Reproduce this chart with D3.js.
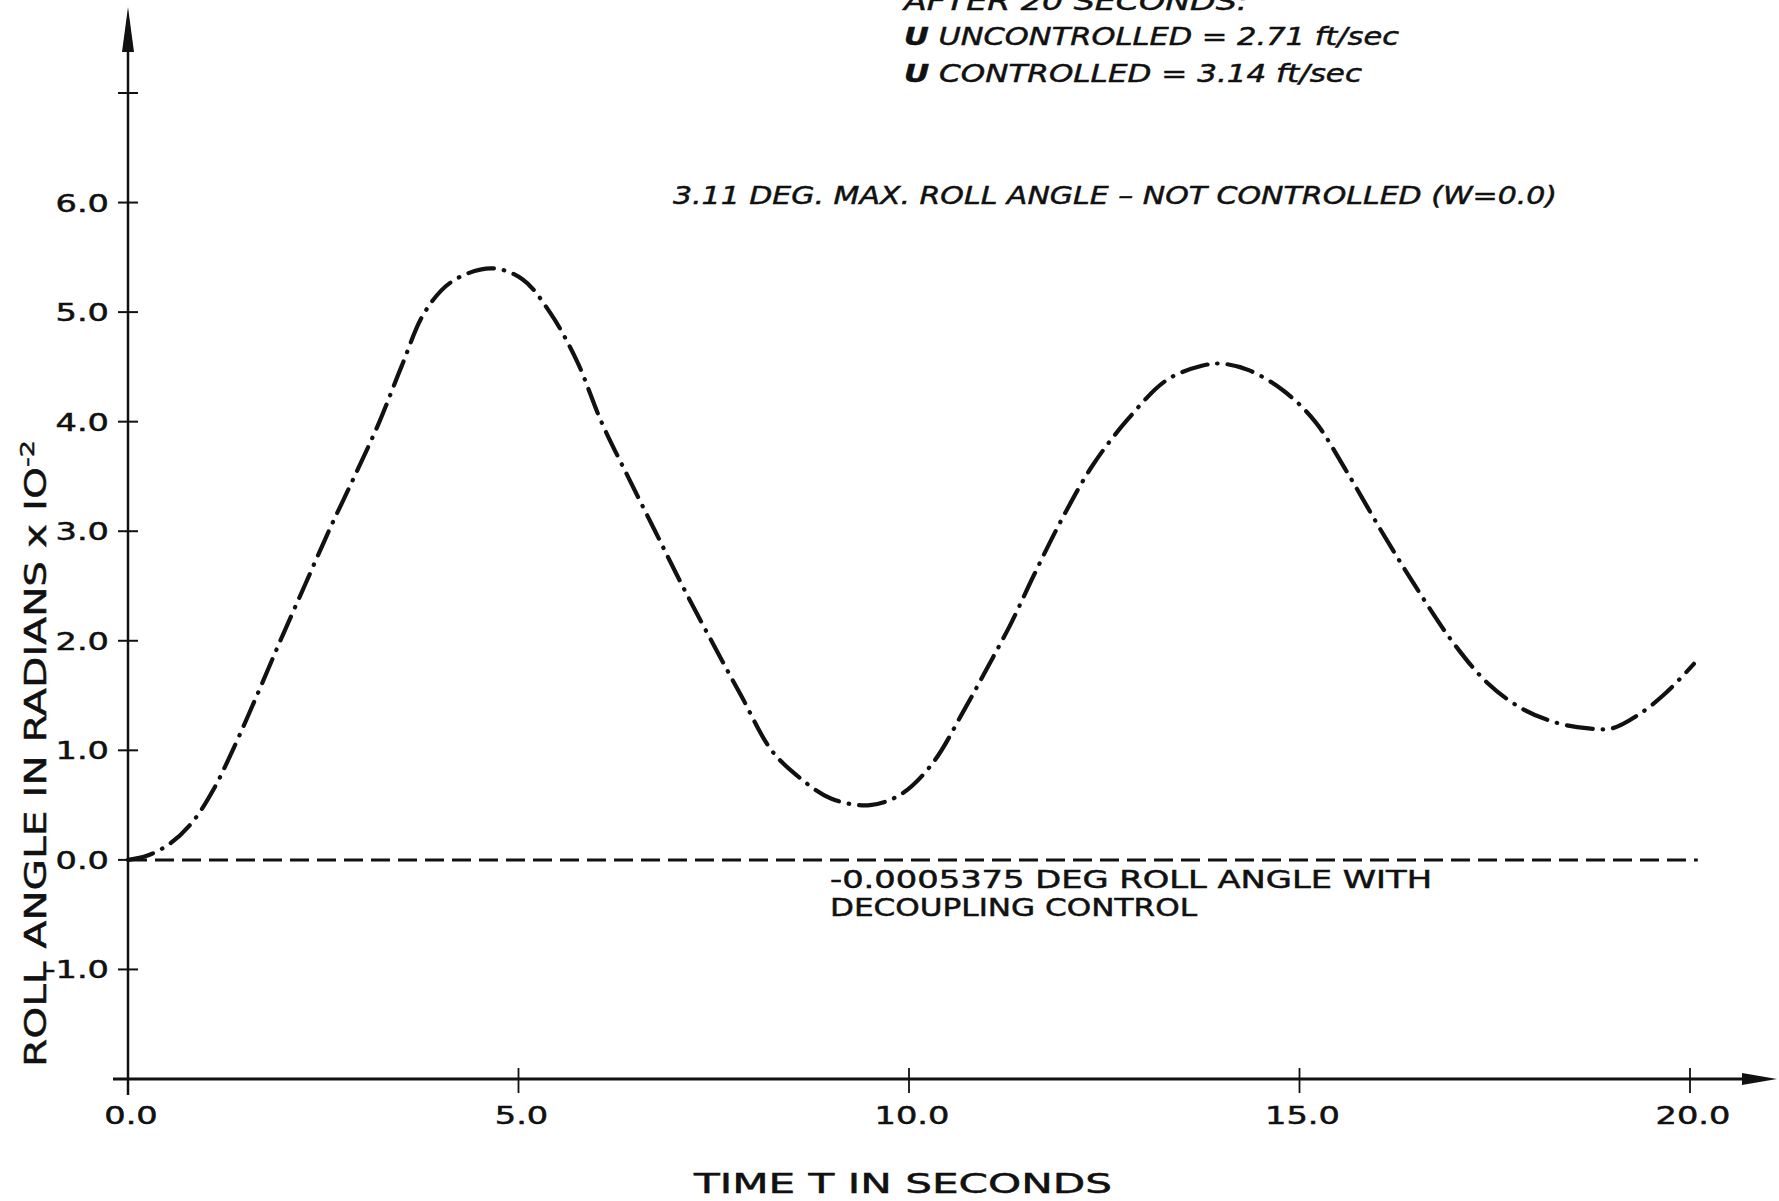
<!DOCTYPE html>
<html>
<head>
<meta charset="utf-8">
<script src="https://cdn.jsdelivr.net/npm/d3@7/dist/d3.min.js"></script>
<style>
  html, body { margin: 0; padding: 0; background: #fff; }
  svg text { font-family: "DejaVu Sans", sans-serif; fill: #111; stroke: #111; stroke-width: 0.5; }
</style>
</head>
<body>
<div id="chart"></div>
<script>
// roll angle (radians x 10^-2) vs time
const timeS = [0, 0.25, 0.54, 0.83, 1.1, 1.34, 1.65, 1.95, 2.26, 2.57, 2.9, 3.22, 3.5, 3.8, 4.15, 4.65,
  5.05, 5.4, 5.75, 6.06, 6.4, 6.75, 7.1, 7.47, 7.85, 8.24, 8.6, 9.0, 9.5, 9.9, 10.3, 10.7, 11.0,
  11.3, 11.6, 11.95, 12.35, 12.8, 13.3, 13.75, 14.0, 14.35, 14.8, 15.2, 15.6, 16.05, 16.5, 16.95,
  17.4, 17.85, 18.3, 18.7, 19.0, 19.35, 19.7, 20.05];
const rollUncontrolled = [0, 0.04, 0.15, 0.35, 0.65, 1.0, 1.5, 2.0, 2.5, 3.0, 3.5, 4.0, 4.5, 5.0, 5.28, 5.4,
  5.3, 5.0, 4.55, 4.0, 3.5, 3.0, 2.5, 2.0, 1.5, 1.0, 0.75, 0.56, 0.5, 0.6, 0.88, 1.36, 1.75,
  2.15, 2.6, 3.1, 3.6, 4.02, 4.38, 4.51, 4.53, 4.47, 4.28, 4.0, 3.55, 3.0, 2.48, 2.0,
  1.62, 1.38, 1.25, 1.2, 1.2, 1.33, 1.53, 1.79];
const timeControlled = [0, 20.1];
const rollControlled = [0, 0];

const xTicks = [0, 5, 10, 15, 20];
const xTickLabels = ["0.0", "5.0", "10.0", "15.0", "20.0"];
const yTicks = [-1, 0, 1, 2, 3, 4, 5, 6, 7];
const yTickLabels = ["-1.0", "0.0", "1.0", "2.0", "3.0", "4.0", "5.0", "6.0", ""];

const notesTop = ["AFTER  20  SECONDS:", "UNCONTROLLED = 2.71  ft/sec", "CONTROLLED = 3.14  ft/sec"];

const W = 1779, H = 1201;
const svg = d3.select("#chart").append("svg")
  .attr("width", W).attr("height", H);

const x = d3.scaleLinear().domain([0, 20]).range([128, 1690]);
const y = d3.scaleLinear().domain([-2, 7]).range([1079, 93]);

// stretch text to a given width, the lettering is wide
function fit(sel, w) {
  sel.attr("textLength", w).attr("lengthAdjust", "spacingAndGlyphs");
}

// axes
const axes = svg.append("g").attr("stroke", "#111").attr("fill", "none");
axes.append("line")
  .attr("x1", 113).attr("x2", 1748)
  .attr("y1", y(-2)).attr("y2", y(-2))
  .attr("stroke-width", 3);
axes.append("line")
  .attr("x1", x(0)).attr("x2", x(0))
  .attr("y1", 1095).attr("y2", 45)
  .attr("stroke-width", 2.5);

// arrowheads
svg.append("path")
  .attr("d", `M${x(0)},7 L${x(0) + 6},52 L${x(0) - 6},52 Z`)
  .attr("fill", "#111");
svg.append("path")
  .attr("d", `M1777,${y(-2)} L1742,${y(-2) - 6} L1742,${y(-2) + 6} Z`)
  .attr("fill", "#111");

// y ticks
axes.selectAll(".yt").data(yTicks).join("line")
  .attr("x1", x(0) - 10).attr("x2", x(0) + 10)
  .attr("y1", d => y(d)).attr("y2", d => y(d))
  .attr("stroke-width", 2);
svg.selectAll(".ylab").data(yTicks).join("text")
  .attr("x", 109).attr("y", d => y(d) + 9)
  .attr("text-anchor", "end")
  .attr("font-size", 24)
  .text((d, i) => yTickLabels[i])
  .each(function() {
    const n = this.getComputedTextLength();
    if (n > 0) d3.select(this).call(fit, n * 1.4);
  });

// x ticks
axes.selectAll(".xt").data(xTicks.slice(1)).join("line")
  .attr("x1", d => x(d)).attr("x2", d => x(d))
  .attr("y1", y(-2) - 11).attr("y2", y(-2) + 14)
  .attr("stroke-width", 1.8);
svg.selectAll(".xlab").data(xTicks).join("text")
  .attr("x", d => x(d) + 3).attr("y", 1124)
  .attr("text-anchor", "middle")
  .attr("font-size", 24)
  .text((d, i) => xTickLabels[i])
  .each(function() {
    d3.select(this).call(fit, this.getComputedTextLength() * 1.4);
  });

// curves
const line = d3.line()
  .x(d => x(d[0])).y(d => y(d[1]))
  .curve(d3.curveCatmullRom.alpha(0.5));

svg.append("path")
  .datum(timeS.map((t, i) => [t, rollUncontrolled[i]]))
  .attr("d", line)
  .attr("fill", "none").attr("stroke", "#111")
  .attr("stroke-width", 4.2)
  .attr("stroke-linecap", "round")
  .attr("stroke-dasharray", "26 10 0.5 10");

svg.append("path")
  .datum(timeControlled.map((t, i) => [t, rollControlled[i]]))
  .attr("d", d3.line().x(d => x(d[0])).y(d => y(d[1])))
  .attr("fill", "none").attr("stroke", "#111")
  .attr("stroke-width", 3)
  .attr("stroke-dasharray", "19 8");

// annotations
const it = svg.append("g").attr("font-style", "italic");
const topY = [10, 45, 82];
notesTop.forEach((s, i) => {
  const t = it.append("text").attr("x", 904).attr("y", topY[i]).attr("font-size", 25);
  if (i > 0) {
    t.append("tspan").attr("font-weight", "bold").text("U");
    t.append("tspan").text("  " + s);
  } else {
    t.text(s);
  }
});
it.selectAll("text").each(function(d, i) {
  d3.select(this).call(fit, [344, 495, 458][i]);
});

it.append("text")
  .attr("x", 673).attr("y", 204).attr("font-size", 25)
  .text("3.11 DEG. MAX. ROLL ANGLE \u2013 NOT  CONTROLLED (W=0.0)")
  .call(fit, 884);

svg.append("text")
  .attr("x", 830).attr("y", 888).attr("font-size", 24)
  .text("-0.0005375 DEG  ROLL ANGLE  WITH")
  .call(fit, 602);
svg.append("text")
  .attr("x", 830).attr("y", 916).attr("font-size", 24)
  .text("DECOUPLING CONTROL")
  .call(fit, 367);

// axis titles
svg.append("text")
  .attr("x", 694).attr("y", 1193).attr("font-size", 27)
  .text("TIME  T  IN  SECONDS")
  .call(fit, 418);

const yt = svg.append("text")
  .attr("transform", "translate(46,1067) rotate(-90)")
  .attr("font-size", 30);
yt.append("tspan").text("ROLL  ANGLE   IN   RADIANS x IO");
yt.append("tspan").attr("dy", -12).attr("font-size", 20).text("-2");
yt.call(fit, 627);
</script>
</body>
</html>
